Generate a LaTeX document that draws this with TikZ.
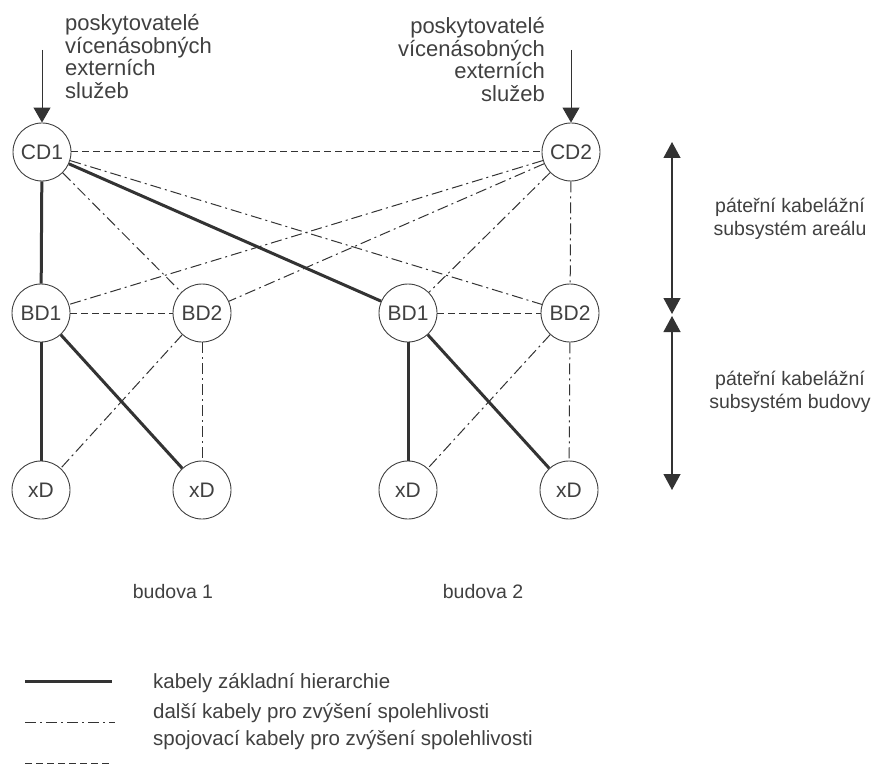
\documentclass[tikz,border=0pt]{standalone}
\usepackage{fontspec}
\setmainfont{Liberation Sans}
\usetikzlibrary{arrows.meta}

\begin{document}
\begin{tikzpicture}[x=1pt,y=-1pt,
  every node/.style={text=black!75, font=\fontsize{19.5}{22.5}\selectfont},
  dist/.style={circle, draw=black!75, line width=0.9pt, minimum size=58pt, inner sep=0pt,
    font=\fontsize{21}{24}\selectfont},
  hier/.style={line width=3pt, draw=black!80},
  extra/.style={line width=1pt, draw=black!80, dash pattern=on 11pt off 4pt on 2pt off 4pt},
  link/.style={line width=1pt, draw=black!80, dash pattern=on 7pt off 4pt},
  feed/.style={line width=1pt, draw=black!80, -{Triangle[width=17pt,length=15pt]}},
  span/.style={line width=1.2pt, draw=black!80, {Triangle[width=17pt,length=16pt]}-{Triangle[width=17pt,length=16pt]}},
  lab/.style={inner sep=0pt},
  srclab/.style={inner sep=0pt, font=\fontsize{22}{22.8}\selectfont},
  leglab/.style={inner sep=0pt, anchor=west, font=\fontsize{20.5}{24}\selectfont}]
\useasboundingbox (0,0) rectangle (874,767);

% distributors
\node[dist] (cd1) at (42,152) {CD1};
\node[dist] (cd2) at (571,152) {CD2};
\node[dist] (bd11) at (41,313) {BD1};
\node[dist] (bd12) at (202,313) {BD2};
\node[dist] (bd21) at (408,313) {BD1};
\node[dist] (bd22) at (570,313) {BD2};
\node[dist] (xd11) at (41,490) {xD};
\node[dist] (xd12) at (202,490) {xD};
\node[dist] (xd21) at (408,490) {xD};
\node[dist] (xd22) at (569,490) {xD};

% external services
\node[srclab, anchor=north west, align=left] (src1) at (65,14) {poskytovatelé\\vícenásobných\\externích\\služeb};
\node[srclab, anchor=north east, align=right] (src2) at (545,17) {poskytovatelé\\vícenásobných\\externích\\služeb};
\coordinate (in1) at (42,50);
\coordinate (in2) at (571,50);
\draw[feed] (in1) -- (cd1);
\draw[feed] (in2) -- (cd2);

% campus backbone
\draw[link] (cd1) -- (cd2);
\draw[hier] (cd1) -- (bd11);
\draw[hier] (cd1) -- (bd21);
\draw[extra] (cd1) -- (bd12);
\draw[extra] (cd1) -- (bd22);
\draw[extra] (cd2) -- (bd11);
\draw[extra] (cd2) -- (bd12);
\draw[extra] (cd2) -- (bd21);
\draw[extra] (cd2) -- (bd22);

% building backbone
\foreach \b in {1,2} {
  \draw[link] (bd\b1) -- (bd\b2);
  \draw[hier] (bd\b1) -- (xd\b1);
  \draw[hier] (bd\b1) -- (xd\b2);
  \draw[extra] (bd\b2) -- (xd\b1);
  \draw[extra] (bd\b2) -- (xd\b2);
}

\node[lab] (bud1) at (173,592) {budova 1};
\node[lab] (bud2) at (483,592) {budova 2};

% subsystem ranges
\coordinate (spA) at (672,142);
\coordinate (spB) at (672,314);
\coordinate (spC) at (672,316);
\coordinate (spD) at (672,490);
\draw[span] (spA) -- (spB);
\draw[span] (spC) -- (spD);
\node[lab, align=center] (areal) at (790,219) {páteřní kabelážní\\subsystém areálu};
\node[lab, align=center] (budovy) at (790,392) {páteřní kabelážní\\subsystém budovy};

% legend
\coordinate (lg1a) at (25,681); \coordinate (lg1b) at (112,681);
\coordinate (lg2a) at (25,722); \coordinate (lg2b) at (115,722);
\coordinate (lg3a) at (25,763); \coordinate (lg3b) at (112,763);
\draw[hier] (lg1a) -- (lg1b);
\draw[extra] (lg2a) -- (lg2b);
\draw[link] (lg3a) -- (lg3b);
\node[leglab] (lgt1) at (153,683) {kabely základní hierarchie};
\node[leglab] (lgt2) at (153,713) {další kabely pro zvýšení spolehlivosti};
\node[leglab] (lgt3) at (153,740) {spojovací kabely pro zvýšení spolehlivosti};
\end{tikzpicture}
\end{document}
